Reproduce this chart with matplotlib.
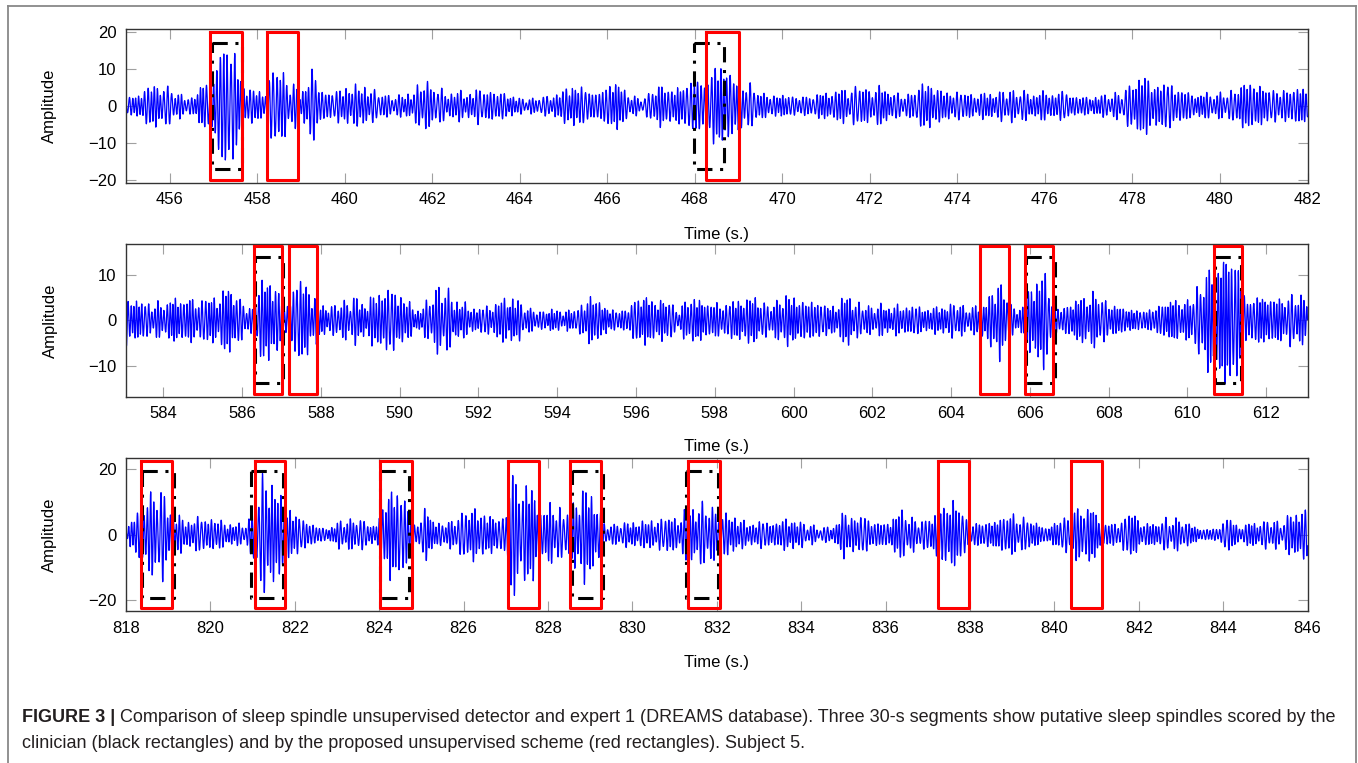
import numpy as np
import matplotlib
matplotlib.use("Agg")
import matplotlib.pyplot as plt
from matplotlib.lines import Line2D

# ---------------- data ----------------
# x-ranges of the three 30-s segments
p1_xlim = (455.0, 482.0)
p2_xlim = (583.05, 613.05)
p3_xlim = (818.0, 846.0)

p1_ylim = (-20.8, 20.8)
p2_ylim = (-16.7, 16.7)
p3_ylim = (-23.3, 23.3)

p1_yticks = [-20, -10, 0, 10, 20]
p2_yticks = [-10, 0, 10]
p3_yticks = [-20, 0, 20]

p1_xticks = list(range(456, 483, 2))
p2_xticks = list(range(584, 613, 2))
p3_xticks = list(range(818, 847, 2))

# signal envelope (peak amplitude)
p1_env_t = [455.0, 455.3, 455.45, 455.7, 456.0, 456.2, 456.5, 456.65, 456.75, 456.9,
            457.0, 457.15, 457.27, 457.4, 457.55, 457.65, 457.75, 457.9, 458.1, 458.25,
            458.4, 458.55, 458.7, 458.85, 459.0, 459.15, 459.25, 459.4, 459.55, 459.8,
            460.0, 460.5, 460.8, 461.2, 461.6, 461.85, 462.1, 462.4, 462.7, 463.2,
            463.7, 463.9, 464.3, 464.6, 464.9, 465.1, 465.4, 465.7, 466.0, 466.15,
            466.35, 466.6, 466.8, 467.0, 467.3, 467.6, 467.8, 468.0, 468.2, 468.4,
            468.6, 468.8, 469.0, 469.15, 469.35, 469.6, 469.9, 470.3, 470.6, 470.9,
            471.3, 471.6, 472.0, 472.3, 472.6, 472.9, 473.2, 473.35, 473.6, 474.0,
            474.3, 474.8, 475.2, 475.6, 476.0, 476.4, 476.7, 477.1, 477.4, 477.7,
            477.9, 478.2, 478.5, 478.8, 479.1, 479.4, 479.8, 480.2, 480.5, 480.8,
            481.0, 481.3, 481.7, 482.0]
p1_env_a = [2, 2.5, 5, 5, 4.5, 3, 2, 3, 7, 5,
            8, 15, 18, 15, 10, 5, 6, 4, 3, 6,
            10, 9, 7, 5, 2.5, 8, 9, 6, 3.5, 3.5,
            5, 5, 3, 2.5, 4, 7, 4, 3.5, 3.5, 4,
            3.5, 2, 1.8, 2.5, 3, 5.5, 4.5, 3.5, 5, 6.5,
            4, 2.5, 1.5, 4, 5, 4, 5, 8, 6, 9,
            9, 9, 6, 6.5, 4, 3, 2.5, 2.5, 2.5, 3,
            4, 4.5, 4.5, 4.5, 3, 3, 5.5, 6.5, 4, 3.5,
            3, 3.5, 4, 3.5, 3.5, 3.5, 2.5, 2.5, 3, 3,
            5, 8, 6, 5.5, 4.5, 3, 3, 3.5, 5, 6.5,
            4, 4, 4.5, 4]

p2_env_t = [583.05, 583.12, 583.5, 584.0, 584.3, 584.8, 585.1, 585.4, 585.65, 585.9,
            586.15, 586.28, 586.4, 586.6, 586.8, 586.95, 587.08, 587.2, 587.4, 587.6,
            587.85, 588.0, 588.3, 588.6, 589.0, 589.2, 589.45, 589.7, 590.0, 590.2,
            590.45, 590.7, 590.9, 591.15, 591.35, 591.6, 591.9, 592.2, 592.5, 592.85,
            593.1, 593.5, 594.0, 594.5, 594.8, 595.0, 595.3, 595.7, 595.9, 596.2,
            596.5, 596.9, 597.1, 597.35, 597.6, 598.1, 598.5, 598.8, 599.0, 599.3,
            599.6, 599.8, 600.1, 600.6, 600.9, 601.2, 601.4, 601.7, 602.2, 602.6,
            603.0, 603.4, 603.8, 604.1, 604.4, 604.6, 604.8, 605.0, 605.15, 605.25,
            605.4, 605.5, 605.7, 605.9, 606.05, 606.2, 606.35, 606.5, 606.65, 606.9,
            607.1, 607.3, 607.6, 607.9, 608.2, 608.5, 608.8, 609.1, 609.4, 609.8,
            610.1, 610.3, 610.5, 610.7, 610.9, 611.1, 611.3, 611.4, 611.6, 612.0,
            612.5, 613.05]
p2_env_a = [7, 4, 3.5, 3.5, 4, 4.5, 4, 5, 6.5, 4.5,
            3, 2, 7, 8.5, 7.5, 6, 2, 5, 8, 7.5,
            5, 3, 3, 4, 4.5, 3.5, 6.5, 6, 5.5, 4,
            2, 4, 6, 7.5, 4.5, 3.5, 2.5, 2.5, 4, 5,
            3, 2, 2, 2, 5, 4.5, 2, 2, 4, 4.5,
            4, 3.5, 2, 5, 3.5, 3.5, 3.5, 4.5, 4.5, 3,
            4, 5, 4, 4, 2.5, 4, 5, 3, 3, 3,
            3, 2.5, 3, 3.5, 2.5, 3, 4, 5, 7, 9,
            5, 3, 2.5, 4, 8, 10, 9.5, 6, 2.5, 3,
            4, 4.5, 5.5, 4, 3, 2.5, 1.8, 2.5, 3.5, 4,
            4, 7, 9.5, 11, 12, 12, 13, 6, 4.5, 4.5,
            4.5, 5]

p3_env_t = [818.0, 818.1, 818.2, 818.3, 818.4, 818.6, 818.8, 819.0, 819.15, 819.4,
            819.8, 820.2, 820.5, 820.8, 820.95, 821.1, 821.3, 821.5, 821.7, 821.85,
            822.1, 822.4, 822.6, 822.9, 823.1, 823.5, 823.7, 823.9, 824.05, 824.2,
            824.5, 824.75, 824.85, 825.0, 825.1, 825.25, 825.6, 825.8, 826.1, 826.3,
            826.6, 826.85, 827.0, 827.1, 827.25, 827.45, 827.7, 827.85, 828.05, 828.25,
            828.4, 828.55, 828.75, 829.0, 829.2, 829.35, 829.6, 830.0, 830.4, 830.8,
            831.1, 831.3, 831.5, 831.8, 832.0, 832.2, 832.35, 832.6, 833.0, 833.4,
            833.7, 834.0, 834.4, 834.8, 835.0, 835.3, 835.6, 836.0, 836.2, 836.45,
            836.7, 836.95, 837.2, 837.45, 837.6, 837.8, 837.95, 838.3, 838.6, 838.95,
            839.2, 839.5, 839.8, 840.1, 840.4, 840.65, 840.9, 841.1, 841.4, 841.7,
            841.9, 842.1, 842.4, 842.7, 842.95, 843.2, 843.5, 843.9, 844.1, 844.35,
            844.8, 845.1, 845.4, 845.7, 845.85, 846.0]
p3_env_a = [1, 4, 8, 6, 9, 13, 11.5, 10, 5, 4.5,
            4.5, 4.5, 3, 3, 5, 12, 17, 14, 10, 8,
            4.5, 3.5, 2, 2, 4, 4.5, 4, 1.5, 8, 11.5,
            11, 10, 2, 5, 8, 3.5, 3, 5, 6.5, 7,
            5, 4, 6, 20, 15, 13, 11, 6, 8, 9,
            4, 8, 12.5, 11, 8, 3, 3, 3.5, 4, 4.5,
            5, 7, 8.5, 8.5, 7, 5, 7, 3.5, 3.5, 3.5,
            5, 3.5, 2, 2.5, 6.5, 5, 4.5, 3, 5.5, 6.5,
            4, 4.5, 5.5, 10, 9, 7, 3.5, 3.5, 3.5, 6,
            5, 3.5, 2, 3.5, 6, 8, 7, 3.5, 3, 5,
            6, 3, 3, 4.5, 4.5, 3, 1.5, 2, 5, 2.5,
            3.5, 4, 3.5, 7, 8, 6]

# detections: clinician (black) and unsupervised scheme (red)
p1_black_start = [456.97, 467.98]
p1_black_end = [457.64, 468.67]
p1_black_h = 17.0
p1_red_start = [456.92, 458.22, 468.25]
p1_red_end = [457.64, 458.94, 469.0]
p1_red_h = 20.0

p2_black_start = [586.33, 605.90, 610.69]
p2_black_end = [587.03, 606.65, 611.37]
p2_black_h = 13.8
p2_red_start = [586.29, 587.18, 604.73, 605.87, 610.67]
p2_red_end = [587.01, 587.91, 605.47, 606.60, 611.38]
p2_red_h = 16.2

p3_black_start = [818.37, 820.97, 824.03, 828.57, 831.28]
p3_black_end = [819.13, 821.71, 824.71, 829.31, 832.03]
p3_black_h = 19.2
p3_red_start = [818.35, 821.05, 824.03, 827.05, 828.53, 831.33, 837.24, 840.40]
p3_red_end = [819.08, 821.76, 824.77, 827.78, 829.25, 832.07, 837.97, 841.13]
p3_red_h = 22.4

xlabel_text = "Time (s.)"
ylabel_text = "Amplitude"
caption_bold = "FIGURE 3 | "
caption_line1 = ("Comparison of sleep spindle unsupervised detector and expert 1 (DREAMS database). "
                 "Three 30-s segments show putative sleep spindles scored by the")
caption_line2 = ("clinician (black rectangles) and by the proposed unsupervised scheme "
                 "(red rectangles). Subject 5.")

# ---------------- figure ----------------
W, H = 1358, 763
fig = plt.figure(figsize=(W / 100, H / 100), dpi=100)
plt.rcParams['font.family'] = ['Liberation Sans', 'DejaVu Sans']

FS = 200.0
F0 = 13.3


def trace(xlim, env_t, env_a):
    t = np.arange(xlim[0], xlim[1] + 1e-9, 1.0 / FS)
    env = np.interp(t, env_t, env_a)
    phase = 2 * np.pi * F0 * t + 1.3 * np.sin(2 * np.pi * 0.83 * t) + 0.6 * np.sin(2 * np.pi * 2.1 * t)
    carrier = (np.sin(phase) + 0.25 * np.sin(2 * np.pi * 9.1 * t + 0.4)
               + 0.18 * np.sin(2 * np.pi * 16.3 * t + 1.1)) / 1.2
    wobble = 1.0 + 0.12 * np.sin(2 * np.pi * 3.7 * t) * np.cos(2 * np.pi * 1.3 * t)
    y = env * wobble * carrier
    return t, y


panels = [
    (p1_xlim, p1_ylim, p1_xticks, p1_yticks, p1_env_t, p1_env_a,
     p1_black_start, p1_black_end, p1_black_h, p1_red_start, p1_red_end, p1_red_h),
    (p2_xlim, p2_ylim, p2_xticks, p2_yticks, p2_env_t, p2_env_a,
     p2_black_start, p2_black_end, p2_black_h, p2_red_start, p2_red_end, p2_red_h),
    (p3_xlim, p3_ylim, p3_xticks, p3_yticks, p3_env_t, p3_env_a,
     p3_black_start, p3_black_end, p3_black_h, p3_red_start, p3_red_end, p3_red_h),
]

# axes boxes in pixels: (left, top, right, bottom)
boxes_px = [(126, 29.3, 1307.5, 182.7), (126, 244, 1307.5, 396.7), (126, 458, 1307.5, 611.3)]
xlabel_y_px = [234, 447, 662]

for (xl, yl, xt, yt, et, ea, bs, be, bh, rs, re_, rh), (l, tp, r, b), xly in zip(panels, boxes_px, xlabel_y_px):
    ax = fig.add_axes([l / W, 1 - b / H, (r - l) / W, (b - tp) / H])
    t, y = trace(xl, et, ea)
    ax.plot(t, y, color='#0000ff', lw=0.9, zorder=2)
    for s, e in zip(bs, be):
        ax.plot([s, e, e, s, s], [bh, bh, -bh, -bh, bh], color='black', lw=2.2,
                dashes=(5, 2.5, 1, 2.5), zorder=3, solid_capstyle='butt')
    for s, e in zip(rs, re_):
        ax.plot([s, e, e, s, s], [rh, rh, -rh, -rh, rh], color='#ff0000', lw=2.2, zorder=4)
    ax.set_xlim(*xl)
    ax.set_ylim(*yl)
    ax.set_xticks(xt)
    ax.set_yticks(yt)
    ax.set_yticklabels([("\u2212" + str(-v)) if v < 0 else str(v) for v in yt])
    ax.tick_params(direction='in', length=7, width=0.8, color='#a0a0a0',
                   top=True, right=True, labelsize=12, labelcolor='black', pad=7)
    for sp in ax.spines.values():
        sp.set_color('#333333')
        sp.set_linewidth(1.0)
    ax.set_ylabel(ylabel_text, fontsize=12, labelpad=22)
    fig.text(((l + r) / 2) / W, 1 - xly / H, xlabel_text, ha='center', va='center', fontsize=12)

# outer frame
frame_col = '#888888'
fig.add_artist(Line2D([7.5 / W, 7.5 / W], [0, 1 - 6 / H], color=frame_col, lw=1.3))
fig.add_artist(Line2D([1355.7 / W, 1355.7 / W], [0, 1 - 6 / H], color=frame_col, lw=1.3))
fig.add_artist(Line2D([7.5 / W, 1355.7 / W], [1 - 6 / H, 1 - 6 / H], color=frame_col, lw=1.3))

# caption
fig.canvas.draw()
renderer = fig.canvas.get_renderer()
cap_fs = 13.0
tb = fig.text(22 / W, 1 - 717 / H, caption_bold, fontsize=cap_fs, fontweight='bold',
              ha='left', va='center', color='#231f20')
bb = tb.get_window_extent(renderer)
fig.text(bb.x1 / W, 1 - 717 / H, caption_line1, fontsize=cap_fs, ha='left', va='center', color='#231f20')
fig.text(22 / W, 1 - 743 / H, caption_line2, fontsize=cap_fs, ha='left', va='center', color='#231f20')

fig.savefig("out.png", dpi=100)
